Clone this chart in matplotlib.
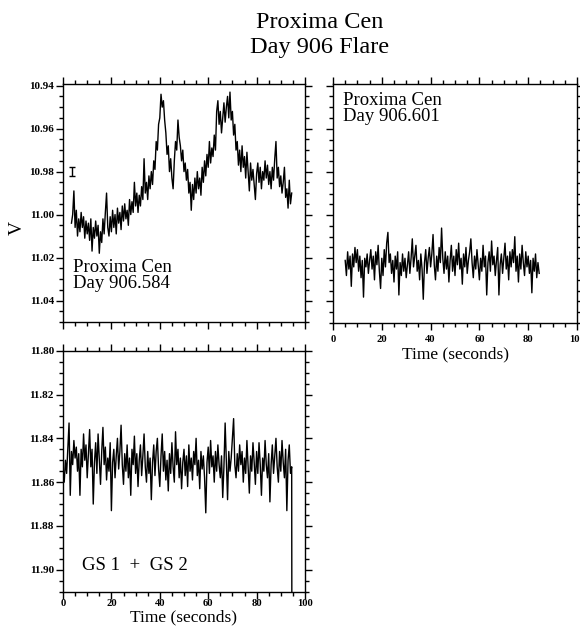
import numpy as np
import matplotlib
matplotlib.use("Agg")
import matplotlib.pyplot as plt
from matplotlib.ticker import MultipleLocator, NullFormatter

plt.rcParams['font.family'] = ['Liberation Serif', 'DejaVu Serif']

# ---------------- data ----------------
# Proxima Cen, Day 906.584 (flare), sampled every 0.5 s from t=3.5 s
t1_start, t1_step = 3.5, 0.5
v1 = [11.004, 11.000, 10.989, 11.006, 10.998, 11.010, 11.002, 11.008, 10.999, 11.006,
      11.001, 11.011, 11.003, 11.009, 11.004, 11.012, 11.002, 11.017, 11.006, 11.011,
      11.003, 11.010, 11.005, 11.018, 11.008, 11.013, 11.002, 11.009, 10.999, 10.990,
      11.006, 11.010, 11.001, 11.008, 10.998, 11.006, 11.000, 11.009, 10.997, 11.004,
      10.999, 11.007, 10.996, 11.003, 10.995, 11.002, 10.998, 11.005, 10.993, 11.000,
      10.994, 10.999, 10.985, 10.996, 10.990, 10.999, 10.991, 10.996, 10.987, 10.993,
      10.974, 10.990, 10.985, 10.993, 10.982, 10.988, 10.980, 10.986, 10.975, 10.979,
      10.966, 10.970, 10.958, 10.955, 10.944, 10.950, 10.947, 10.956, 10.962, 10.972,
      10.968, 10.980, 10.974, 10.983, 10.988, 10.975, 10.966, 10.970, 10.956, 10.964,
      10.968, 10.975, 10.970, 10.980, 10.976, 10.984, 10.979, 10.990, 10.985, 10.998,
      10.986, 10.993, 10.983, 10.990, 10.980, 10.988, 10.983, 10.991, 10.978, 10.985,
      10.975, 10.982, 10.972, 10.978, 10.966, 10.976, 10.969, 10.973, 10.963, 10.970,
      10.952, 10.947, 10.958, 10.952, 10.962, 10.955, 10.948, 10.957, 10.950, 10.945,
      10.955, 10.943, 10.956, 10.952, 10.963, 10.958, 10.970, 10.966, 10.977, 10.970,
      10.980, 10.968, 10.978, 10.973, 10.983, 10.971, 10.980, 10.989, 10.976, 10.984,
      10.979, 10.986, 10.993, 10.981, 10.976, 10.985, 10.978, 10.988, 10.980, 10.984,
      10.975, 10.983, 10.977, 10.986, 10.980, 10.988, 10.978, 10.984, 10.974, 10.966,
      10.983, 10.978, 10.987, 10.982, 10.990, 10.985, 10.978, 10.992, 10.988, 10.997,
      10.984, 10.995, 10.990]

# Proxima Cen, Day 906.601 (quiet), sampled every 0.5 s from t=5.0 s
t2_start, t2_step = 5.0, 0.5
v2 = [11.021, 11.028, 11.017, 11.025, 11.019, 11.033, 11.018, 11.024, 11.015, 11.022,
      11.016, 11.026, 11.019, 11.029, 11.021, 11.038, 11.020, 11.024, 11.018, 11.027,
      11.021, 11.016, 11.025, 11.019, 11.030, 11.017, 11.023, 11.014, 11.026, 11.034,
      11.020, 11.028, 11.016, 11.024, 11.013, 11.008, 11.022, 11.018, 11.027, 11.021,
      11.031, 11.019, 11.025, 11.017, 11.037, 11.022, 11.028, 11.018, 11.026, 11.020,
      11.029, 11.023, 11.017, 11.027, 11.020, 11.011, 11.024, 11.019, 11.014, 11.026,
      11.021, 11.030, 11.018, 11.025, 11.039, 11.022, 11.016, 11.027, 11.020, 11.015,
      11.024, 11.018, 11.009, 11.023, 11.030, 11.019, 11.026, 11.015, 11.022, 11.006,
      11.020, 11.027, 11.017, 11.025, 11.019, 11.031, 11.021, 11.014, 11.026, 11.019,
      11.028, 11.016, 11.023, 11.013, 11.025, 11.020, 11.032, 11.018, 11.024, 11.015,
      11.027, 11.021, 11.017, 11.011, 11.022, 11.029, 11.019, 11.025, 11.016, 11.023,
      11.030, 11.020, 11.026, 11.014, 11.024, 11.019, 11.037, 11.022, 11.017, 11.026,
      11.012, 11.023, 11.019, 11.028, 11.021, 11.015, 11.037, 11.023, 11.018, 11.027,
      11.020, 11.013, 11.025, 11.019, 11.030, 11.017, 11.024, 11.016, 11.022, 11.010,
      11.026, 11.019, 11.031, 11.018, 11.025, 11.014, 11.022, 11.028, 11.017, 11.024,
      11.019, 11.027, 11.021, 11.036, 11.020, 11.026, 11.018, 11.029, 11.022, 11.027]

# GS 1 + GS 2 comparison, sampled every 0.5 s from t=0, then drop at end
t3_start, t3_step = 0.0, 0.5
v3 = [11.855, 11.860, 11.850, 11.856, 11.845, 11.833, 11.866, 11.846, 11.852, 11.841,
      11.849, 11.844, 11.855, 11.847, 11.866, 11.845, 11.853, 11.838, 11.850, 11.843,
      11.858, 11.847, 11.836, 11.853, 11.845, 11.870, 11.851, 11.842, 11.856, 11.838,
      11.850, 11.861, 11.846, 11.835, 11.852, 11.844, 11.859, 11.849, 11.855, 11.842,
      11.873, 11.851, 11.845, 11.858, 11.848, 11.840, 11.854, 11.846, 11.834, 11.852,
      11.861, 11.847, 11.855, 11.843, 11.858, 11.849, 11.866, 11.845, 11.852, 11.839,
      11.856, 11.847, 11.862, 11.850, 11.843, 11.857, 11.848, 11.838, 11.853, 11.860,
      11.846, 11.856, 11.849, 11.868, 11.851, 11.843, 11.857, 11.846, 11.840, 11.854,
      11.862, 11.848, 11.838, 11.855, 11.846, 11.859, 11.850, 11.864, 11.847, 11.856,
      11.842, 11.853, 11.860, 11.837, 11.852, 11.845, 11.858, 11.849, 11.863, 11.851,
      11.845, 11.857, 11.848, 11.862, 11.843, 11.855, 11.849, 11.859, 11.846, 11.852,
      11.840, 11.857, 11.850, 11.863, 11.846, 11.854, 11.848, 11.858, 11.874, 11.851,
      11.844, 11.856, 11.841, 11.853, 11.848, 11.860, 11.846, 11.855, 11.843, 11.852,
      11.858, 11.848, 11.867, 11.853, 11.833, 11.850, 11.868, 11.846, 11.855, 11.849,
      11.840, 11.831, 11.852, 11.858, 11.847, 11.855, 11.843, 11.852, 11.846, 11.860,
      11.849, 11.856, 11.841, 11.853, 11.865, 11.848, 11.855, 11.842, 11.851, 11.861,
      11.846, 11.856, 11.842, 11.852, 11.866, 11.849, 11.855, 11.841, 11.852, 11.858,
      11.847, 11.869, 11.852, 11.843, 11.856, 11.848, 11.840, 11.853, 11.860, 11.846,
      11.855, 11.841, 11.851, 11.858, 11.845, 11.873, 11.850, 11.843, 11.856, 11.853]
t3_drop, v3_drop = 94.6, 11.95

# representative error bar
err_t, err_v, err_dv = 3.7, 10.980, 0.0021

# ---------------- figure ----------------
fig = plt.figure(figsize=(5.80, 6.27), dpi=100)

def make_axes(rect, ylim, show_ylabels, show_xlabels, xpad):
    ax = fig.add_axes(rect)
    ax.set_xlim(0, 100)
    ax.set_ylim(*ylim)
    ax.xaxis.set_major_locator(MultipleLocator(20))
    ax.xaxis.set_minor_locator(MultipleLocator(5))
    ax.yaxis.set_major_locator(MultipleLocator(0.02))
    ax.yaxis.set_minor_locator(MultipleLocator(0.005))
    ax.tick_params(which='both', direction='out', top=True, right=True,
                   width=1.0, labelsize=8, color='black')
    ax.tick_params(which='major', length=5)
    ax.tick_params(which='minor', length=3)
    ax.tick_params(axis='x', pad=xpad, labelsize=7.6)
    ax.tick_params(axis='y', pad=1.5)
    if show_ylabels:
        ax.yaxis.set_major_formatter(matplotlib.ticker.FormatStrFormatter('%.2f'))
    else:
        ax.yaxis.set_major_formatter(NullFormatter())
    if not show_xlabels:
        ax.xaxis.set_major_formatter(NullFormatter())
    for lab in ax.get_xticklabels() + ax.get_yticklabels():
        lab.set_fontweight('bold')
    for sp in ax.spines.values():
        sp.set_linewidth(1.0)
    return ax

ax1 = make_axes([63/580, 1-322/627, 242/580, 238.5/627], (11.05, 10.939), True, False, 2)
ax2 = make_axes([333/580, 1-323/627, 244/580, 239.5/627], (11.05, 10.939), False, True, 4)
ax3 = make_axes([63/580, 1-591.7/627, 242/580, 241/627], (11.91, 11.80), True, True, 0.5)

t1 = t1_start + t1_step * np.arange(len(v1))
t2 = t2_start + t2_step * np.arange(len(v2))
t3 = t3_start + t3_step * np.arange(len(v3))

ax1.plot(t1, v1, color='black', lw=1.0)
ax2.plot(t2, v2, color='black', lw=1.0)
ax3.plot(list(t3) + [t3_drop], list(v3) + [v3_drop], color='black', lw=1.0)

ax1.errorbar([err_t], [err_v], yerr=[err_dv], fmt='none', ecolor='black',
             elinewidth=1.0, capsize=2.5, capthick=1.0)

ax1.text(0.04, 0.265, 'Proxima Cen\nDay 906.584', transform=ax1.transAxes,
         fontsize=13.5, ha='left', va='top', linespacing=0.95)
ax2.text(0.04, 0.965, 'Proxima Cen\nDay 906.601', transform=ax2.transAxes,
         fontsize=13.5, ha='left', va='top', linespacing=0.95)
ax3.text(0.08, 0.11, 'GS 1  +  GS 2', transform=ax3.transAxes,
         fontsize=13.5, ha='left', va='center')

ax2.set_xlabel('Time (seconds)', fontsize=12.5)
ax2.xaxis.set_label_coords(0.5, -0.098)
ax3.set_xlabel('Time (seconds)', fontsize=12.5)
ax3.xaxis.set_label_coords(0.5, -0.073)

fig.text(17/580, 1-228/627, 'V', rotation=90, fontsize=14, ha='center', va='center')
fig.text(320/580, 1-22/627, 'Proxima Cen', fontsize=17.5, ha='center', va='center')
fig.text(320/580, 1-48/627, 'Day 906 Flare', fontsize=17.5, ha='center', va='center')

fig.savefig('out.png', dpi=100)
